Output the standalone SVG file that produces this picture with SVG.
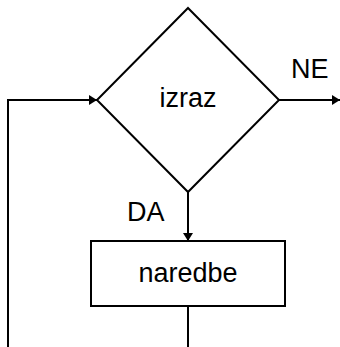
<svg xmlns="http://www.w3.org/2000/svg" width="340" height="347" viewBox="0 0 340 347">
<style>
.s{fill:#fff;stroke:#000;stroke-width:2}
.c{fill:none;stroke:#000;stroke-width:2}
.t{font-family:"Liberation Sans",Arial,sans-serif;font-size:27px;fill:#000}
.m{text-anchor:middle}
</style>
<defs>
<marker id="a" markerWidth="10" markerHeight="10" refX="8" refY="5" orient="auto" markerUnits="userSpaceOnUse">
<path d="M0,0 L8,5 L0,10 Z" fill="#000"/>
</marker>
</defs>
<g id="connectors">
<path class="c" d="M8,347 V100 H97" marker-end="url(#a)"/>
<path class="c" d="M279,100 H340" marker-end="url(#a)"/>
<path class="c" d="M188,192 V241" marker-end="url(#a)"/>
<path class="c" d="M188,306 V347"/>
</g>
<g id="izraz">
<polygon class="s" points="188,8 279,100 188,192 97,100"/>
<text class="t m" x="188" y="107">izraz</text>
</g>
<g id="naredbe">
<rect class="s" x="91" y="241" width="194" height="65"/>
<text class="t m" x="188" y="282">naredbe</text>
</g>
<text class="t" x="291" y="78">NE</text>
<text class="t" x="127" y="221">DA</text>
</svg>
